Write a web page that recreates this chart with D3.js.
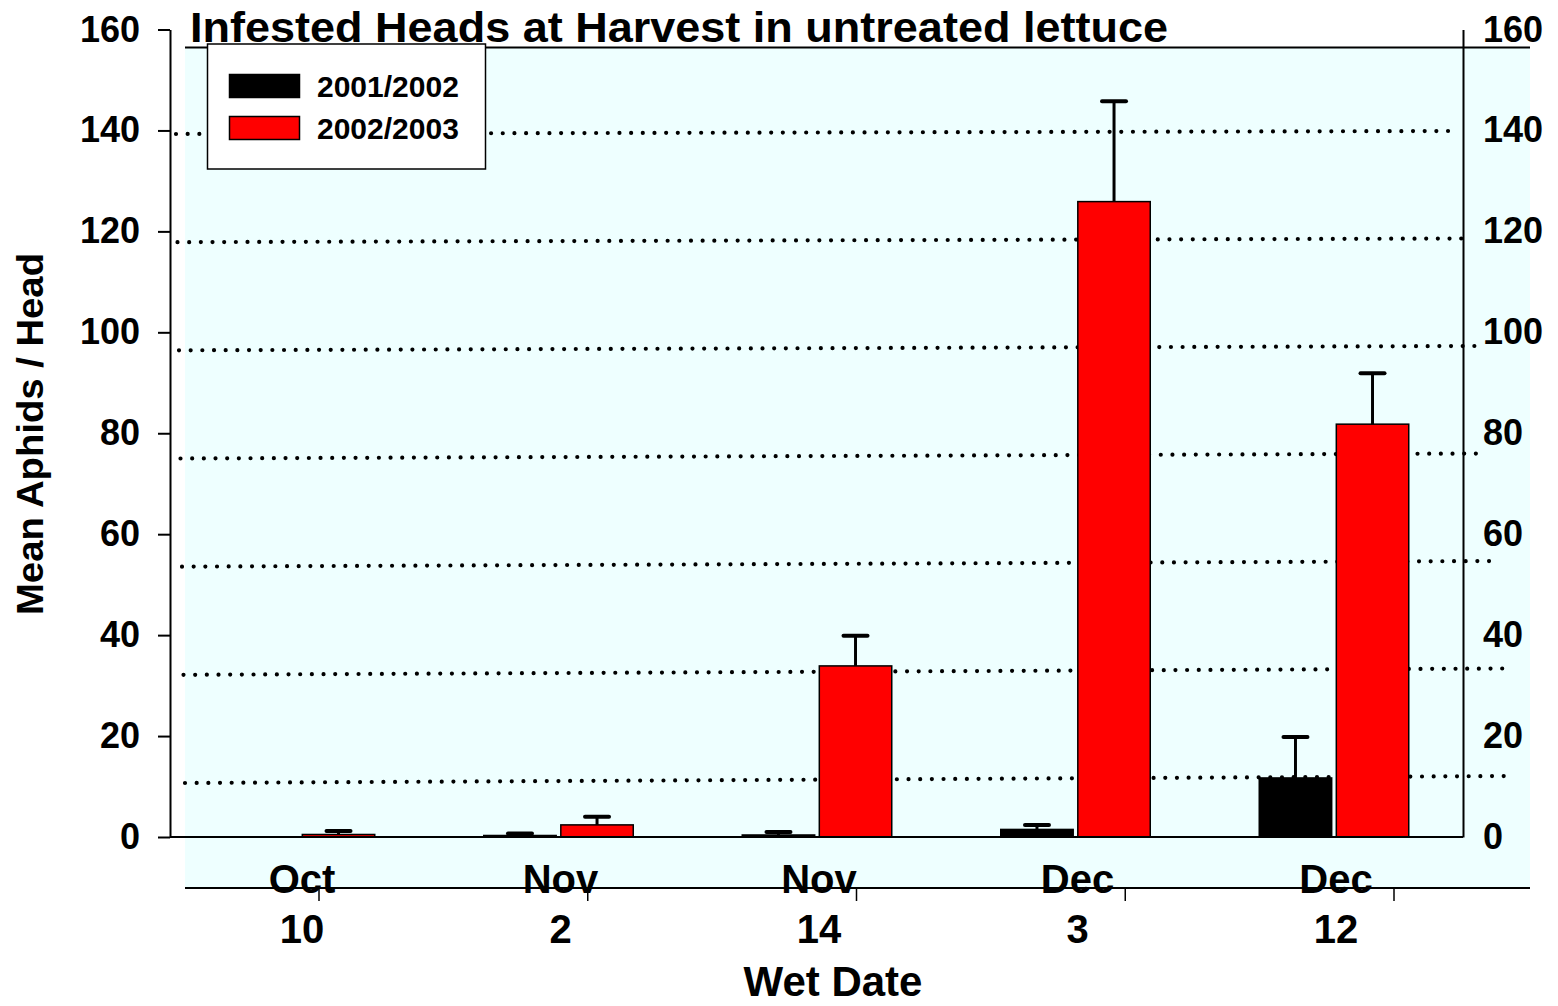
<!DOCTYPE html>
<html>
<head>
<meta charset="utf-8">
<script src="https://cdn.jsdelivr.net/npm/d3@7"></script>
<style>
  html, body { margin: 0; padding: 0; background: #ffffff; }
  svg { display: block; }
  text { font-family: "Liberation Sans", Arial, Helvetica, sans-serif; font-weight: bold; fill: #000; }
</style>
</head>
<body>
<svg id="chart" width="1558" height="1006"></svg>
<script>
// ---------------- data ----------------
const months = ["Oct", "Nov", "Nov", "Dec", "Dec"];
const days = ["10", "2", "14", "3", "12"];
const seriesNames = ["2001/2002", "2002/2003"];
const values2001 = [0, 0.3, 0.4, 1.5, 11.7];
const errors2001 = [0, 0.4, 0.6, 0.9, 8.1];
const values2002 = [0.5, 2.4, 33.9, 125.9, 81.8];
const errors2002 = [0.7, 1.6, 6.0, 19.9, 10.1];
const yTicks = [0, 20, 40, 60, 80, 100, 120, 140, 160];
const overlayGridValues = [20, 40, 60, 80, 100, 120, 140];
const titleText = "Infested Heads at Harvest in untreated lettuce";
const yTitle = "Mean Aphids / Head";
const xTitle = "Wet Date";

// ---------------- layout ----------------
const svg = d3.select("#chart");
const colors = ["#000000", "#ff0000"];
const keys = months.map((m, i) => m + " " + days[i]);

const y = d3.scaleLinear().domain([0, 160]).range([837, 29.5]);
const xGroup = d3.scalePoint().domain(keys).range([300, 1334]);
const xLabel = d3.scalePoint().domain(keys).range([302, 1336]);
const xSub = d3.scaleBand().domain(seriesNames).range([-74.75, 74.75]).paddingInner(0.06);
const xTick = d3.scalePoint().domain(keys).range([319, 1394]);

// overlay grid (mis-registered dotted lines)
const gYL = d3.scaleLinear().domain([20, 140]).range([783, 134]);
const gYR = d3.scaleLinear().domain([20, 140]).range([776, 131]);
const gXL = d3.scaleLinear().domain([20, 140]).range([185, 176]);
const gXR = d3.scaleLinear().domain([20, 140]).range([1515, 1457]);

const plotL = 185, plotR = 1530, plotT = 47.5, plotB = 888;
const axisLX = 170, axisRX = 1463;

// background panel
svg.append("rect").attr("x", plotL).attr("y", plotT).attr("width", plotR - plotL).attr("height", plotB - plotT)
  .attr("fill", "#eeffff");
svg.append("line").attr("x1", plotL).attr("x2", plotR).attr("y1", plotT).attr("y2", plotT)
  .attr("stroke", "#000").attr("stroke-width", 2);
svg.append("line").attr("x1", plotL).attr("x2", plotR).attr("y1", plotB).attr("y2", plotB)
  .attr("stroke", "#000").attr("stroke-width", 2);

// x ticks under bottom line
svg.append("g").selectAll("line").data(keys).join("line")
  .attr("x1", d => xTick(d)).attr("x2", d => xTick(d))
  .attr("y1", plotB).attr("y2", plotB + 13)
  .attr("stroke", "#000").attr("stroke-width", 1.5);

// dotted overlay grid
svg.append("g").selectAll("line").data(overlayGridValues).join("line")
  .attr("x1", d => gXL(d)).attr("y1", d => gYL(d))
  .attr("x2", d => gXR(d)).attr("y2", d => gYR(d))
  .attr("stroke", "#000").attr("stroke-width", 4.2)
  .attr("stroke-linecap", "round").attr("stroke-dasharray", "0 11.67");

// left axis
const leftAxis = svg.append("g").attr("transform", `translate(${axisLX},0)`)
  .call(d3.axisLeft(y).tickValues(yTicks).tickSize(12).tickSizeOuter(0).tickPadding(18));
leftAxis.selectAll("path, line").attr("stroke", "#000").attr("stroke-width", 2);
leftAxis.selectAll("text").attr("font-size", 36).attr("font-family", "Liberation Sans, Arial, sans-serif")
  .attr("font-weight", "bold").attr("fill", "#000");

// right axis
const rightAxis = svg.append("g").attr("transform", `translate(${axisRX},0)`)
  .call(d3.axisRight(y).tickValues(yTicks).tickSize(0).tickSizeOuter(0).tickPadding(20));
rightAxis.selectAll("path").attr("stroke", "#000").attr("stroke-width", 2);
rightAxis.selectAll("text").attr("font-size", 36).attr("font-family", "Liberation Sans, Arial, sans-serif")
  .attr("font-weight", "bold").attr("fill", "#000");

// bars
const data = keys.map((k, i) => ({
  key: k,
  vals: [
    { s: seriesNames[0], v: values2001[i], e: errors2001[i], c: colors[0] },
    { s: seriesNames[1], v: values2002[i], e: errors2002[i], c: colors[1] }
  ]
}));

const groups = svg.append("g").selectAll("g").data(data).join("g")
  .attr("transform", d => `translate(${xGroup(d.key)},0)`);

groups.selectAll("rect").data(d => d.vals).join("rect")
  .attr("x", d => xSub(d.s)).attr("width", xSub.bandwidth())
  .attr("y", d => y(d.v)).attr("height", d => y(0) - y(d.v))
  .attr("fill", d => d.c).attr("stroke", "#000").attr("stroke-width", 1.5);

// error bars
const eb = groups.selectAll("g.err").data(d => d.vals.filter(v => v.e > 0)).join("g").attr("class", "err");
eb.append("line")
  .attr("x1", d => xSub(d.s) + xSub.bandwidth() / 2).attr("x2", d => xSub(d.s) + xSub.bandwidth() / 2)
  .attr("y1", d => y(d.v)).attr("y2", d => y(d.v + d.e))
  .attr("stroke", "#000").attr("stroke-width", 3);
eb.append("line")
  .attr("x1", d => xSub(d.s) + xSub.bandwidth() / 2 - 12).attr("x2", d => xSub(d.s) + xSub.bandwidth() / 2 + 12)
  .attr("y1", d => y(d.v + d.e)).attr("y2", d => y(d.v + d.e))
  .attr("stroke", "#000").attr("stroke-width", 4).attr("stroke-linecap", "round");

// baseline
svg.append("line").attr("x1", axisLX).attr("x2", axisRX).attr("y1", y(0)).attr("y2", y(0))
  .attr("stroke", "#000").attr("stroke-width", 2);

// category labels
svg.append("g").selectAll("text").data(keys).join("text")
  .attr("x", d => xLabel(d)).attr("y", 893).attr("text-anchor", "middle").attr("font-size", 40)
  .text((d, i) => months[i]);
svg.append("g").selectAll("text").data(keys).join("text")
  .attr("x", d => xLabel(d)).attr("y", 943).attr("text-anchor", "middle").attr("font-size", 40)
  .text((d, i) => days[i]);

// axis titles
svg.append("text").attr("x", 833).attr("y", 996).attr("text-anchor", "middle")
  .attr("font-size", 42).text(xTitle);
svg.append("text").attr("transform", "translate(43,434) rotate(-90)").attr("text-anchor", "middle")
  .attr("font-size", 37).attr("textLength", 362).attr("lengthAdjust", "spacingAndGlyphs").text(yTitle);

// title
svg.append("text").attr("x", 190).attr("y", 42).attr("font-size", 42)
  .attr("textLength", 978).attr("lengthAdjust", "spacingAndGlyphs").text(titleText);

// legend
const lg = svg.append("g");
lg.append("rect").attr("x", 207.5).attr("y", 44).attr("width", 278).attr("height", 125)
  .attr("fill", "#fff").attr("stroke", "#000").attr("stroke-width", 1.5);
const li = lg.selectAll("g").data(seriesNames).join("g")
  .attr("transform", (d, i) => `translate(0,${i * 42})`);
li.append("rect").attr("x", 229.5).attr("y", 74.5).attr("width", 70).attr("height", 23)
  .attr("fill", (d, i) => colors[i]).attr("stroke", "#000").attr("stroke-width", 1.5);
li.append("text").attr("x", 317).attr("y", 97).attr("font-size", 30).text(d => d);
</script>
</body>
</html>
